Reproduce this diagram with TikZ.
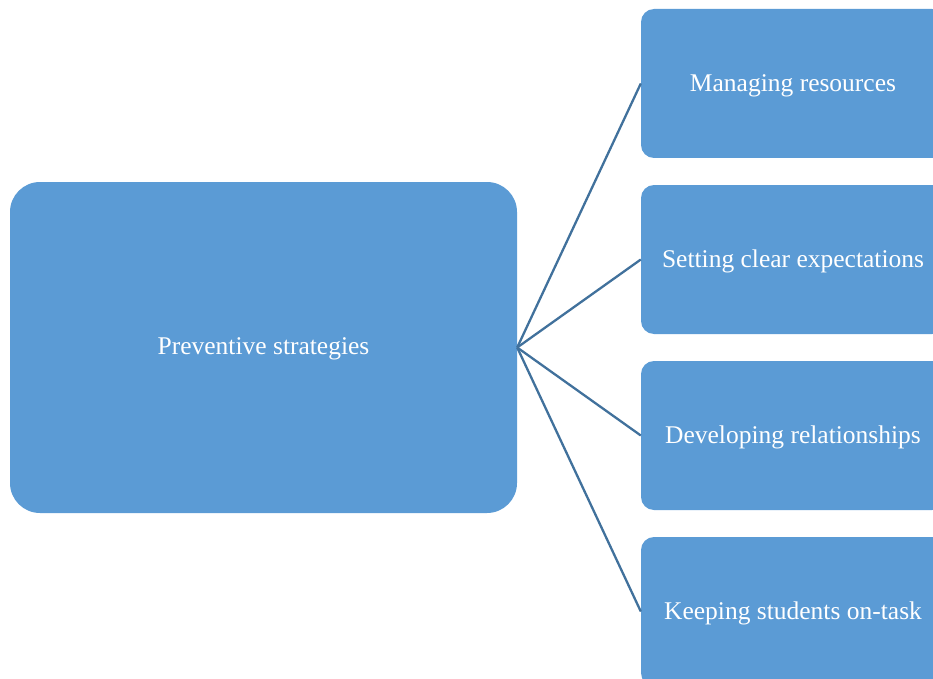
\documentclass[tikz,border=0pt]{standalone}
\usepackage{fontspec}
\setmainfont{Liberation Serif}
\definecolor{boxfill}{HTML}{5B9BD5}
\definecolor{linkcol}{HTML}{41719C}
\begin{document}
\begin{tikzpicture}[x=1pt,y=-1pt,
  bigbox/.style={fill=boxfill, draw=none, rounded corners=30pt, minimum width=507pt, minimum height=331pt, inner sep=0pt, text=white, font=\fontsize{25.5}{30}\selectfont},
  smallbox/.style={fill=boxfill, draw=none, rounded corners=13pt, minimum width=304pt, minimum height=149pt, inner sep=0pt, text=white, font=\fontsize{25.5}{30}\selectfont},
  lbl/.style={text=white, font=\fontsize{25.5}{30}\selectfont, inner sep=0pt},
  link/.style={draw=linkcol, line width=2.3pt}]
\useasboundingbox (0,0) rectangle (933,679);
\node[bigbox] (root) at (263.5,347.5) {};
\node[lbl] (rootl) at (263.5,349) {Preventive strategies};
\node[smallbox] (a) at (793,83.5) {};
\node[smallbox] (b) at (793,259.5) {};
\node[smallbox] (c) at (793,435.5) {};
\node[smallbox] (d) at (793,611.5) {};
\node[lbl] (al) at (793,85.5) {Managing resources};
\node[lbl] (bl) at (793,261.5) {Setting clear expectations};
\node[lbl] (cl) at (793,437.5) {Developing relationships};
\node[lbl] (dl) at (793,613.5) {Keeping students on-task};
\foreach \n in {a,b,c,d} \draw[link] (root.east) -- (\n.west);
\end{tikzpicture}
\end{document}
